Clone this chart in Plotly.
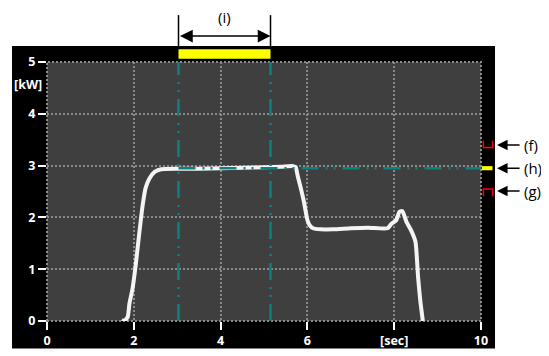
import plotly.graph_objects as go

# ---- data ----
time_s = [1.72, 1.78, 1.86, 1.90, 1.97, 2.04, 2.10, 2.20, 2.27, 2.36, 2.48, 2.63,
          3.0, 3.5, 4.0, 4.5, 5.0, 5.4, 5.67, 5.73, 5.78, 5.84, 5.92, 6.00,
          6.05, 6.13, 6.30, 6.6, 7.0, 7.4, 7.85, 7.93, 8.05, 8.12, 8.19, 8.28,
          8.39, 8.49, 8.55, 8.60, 8.66]
power_kw = [0.02, 0.0, 0.08, 0.34, 0.62, 1.05, 1.50, 2.21, 2.56, 2.75, 2.88, 2.93,
            2.94, 2.94, 2.95, 2.96, 2.97, 2.98, 2.99, 2.97, 2.79, 2.59, 2.30, 1.95,
            1.85, 1.79, 1.77, 1.77, 1.79, 1.80, 1.79, 1.87, 1.95, 2.11, 2.12, 1.92,
            1.75, 1.53, 0.85, 0.40, 0.0]

window_start = 3.03      # left edge of interval (i)
window_end = 5.15        # right edge of interval (i)
target_kw = 2.95         # level (h)
upper_band = [3.35, 3.48]  # (f)
lower_band = [2.41, 2.55]  # (g)
x_range = [0, 10]
y_range = [0, 5]

x_tickvals = [0, 2, 4, 6, 8, 10]
x_ticktext = ["0", "2", "4", "6", "[sec]", "10"]
y_tickvals = [0, 1, 2, 3, 4, 5]
y_ticktext = ["0", "1", "2", "3", "4", "5"]

# ---- styles ----
FONT = "Open Sans"
TEAL = "#0a8282"
GRID = "#8a8a8a"
BG = "#3f3f3f"
TEAL_DASH = "17px,7px,2px,6px,2px,7px"
GRID_DASH = "2px,2px"
TICK_SIZE = 12.5

fig = go.Figure()

fig.add_trace(go.Scatter(
    x=time_s, y=power_kw, mode="lines",
    line=dict(color="#f4f4f4", width=4, shape="spline", smoothing=0.5),
    hoverinfo="skip", showlegend=False))

# teal guide lines (drawn above the curve)
fig.add_trace(go.Scatter(
    x=[window_start, x_range[1]], y=[target_kw, target_kw], mode="lines",
    line=dict(color=TEAL, width=2.5, dash=TEAL_DASH),
    hoverinfo="skip", showlegend=False))
for xv in [window_start, window_end]:
    fig.add_trace(go.Scatter(
        x=[xv, xv], y=y_range, mode="lines",
        line=dict(color=TEAL, width=2.5, dash=TEAL_DASH),
        hoverinfo="skip", showlegend=False, cliponaxis=False))

shapes = [
    # black frame behind everything
    dict(type="rect", xref="paper", yref="paper", x0=-0.0806, x1=1.0323,
         y0=-0.106, y1=1.0618, fillcolor="black", line=dict(width=0), layer="below"),
    # gray plot area
    dict(type="rect", xref="paper", yref="paper", x0=0, x1=1, y0=0, y1=1,
         fillcolor=BG, line=dict(width=0), layer="below"),
    # dotted border (grid lines at the range ends)
    dict(type="rect", xref="paper", yref="paper", x0=0, x1=1, y0=0, y1=1,
         line=dict(color=GRID, width=2, dash=GRID_DASH), layer="below"),
    # yellow interval bar above the plot
    dict(type="rect", xref="x", yref="paper", x0=window_start, x1=window_end,
         y0=1.0127, y1=1.049, fillcolor="#ffff00", line=dict(width=0), layer="above"),
    # black dimension lines
    dict(type="line", xref="x", yref="paper", x0=window_start, x1=window_start,
         y0=1.054, y1=1.181, line=dict(color="black", width=1.5)),
    dict(type="line", xref="x", yref="paper", x0=window_end, x1=window_end,
         y0=1.054, y1=1.181, line=dict(color="black", width=1.5)),
    # (h) yellow marker on right side
    dict(type="rect", xref="paper", yref="y", x0=1.0016, x1=1.0265,
         y0=target_kw - 0.04, y1=target_kw + 0.04, fillcolor="#ffff00",
         line=dict(width=0), layer="above"),
    # (f) red bracket (open top)
    dict(type="path", xref="paper", yref="y",
         path=f"M 1.0055,{upper_band[1]} L 1.0055,{upper_band[0]} L 1.0265,{upper_band[0]} L 1.0265,{upper_band[1]}",
         line=dict(color="#ff0000", width=1.5)),
    # (g) red bracket (open bottom)
    dict(type="path", xref="paper", yref="y",
         path=f"M 1.0055,{lower_band[0]} L 1.0055,{lower_band[1]} L 1.0265,{lower_band[1]} L 1.0265,{lower_band[0]}",
         line=dict(color="#ff0000", width=1.5)),
]

annotations = [
    # double arrow for (i)
    dict(x=window_end, y=1.10, xref="x", yref="paper",
         ax=window_start, ay=0, axref="x", ayref="pixel",
         text="", showarrow=True, arrowhead=2, arrowside="end+start",
         arrowsize=1.7, arrowwidth=1.5, arrowcolor="black"),
    dict(x=(window_start + window_end) / 2, y=1.174, xref="x", yref="paper",
         text="(i)", showarrow=False, font=dict(family=FONT, size=15, color="black"),
         xanchor="center", yanchor="middle"),
    dict(x=-0.006, y=4.56, xref="paper", yref="y", text="[kW]", showarrow=False,
         font=dict(family=FONT, size=TICK_SIZE, color="white", weight="bold"),
         xanchor="right", yanchor="middle"),
]
for label, yv in [("(f)", 3.40), ("(h)", target_kw), ("(g)", 2.51)]:
    annotations.append(dict(x=1.037, y=yv, xref="paper", yref="y", ax=24, ay=0,
                            text="", showarrow=True, arrowhead=2, arrowsize=1.4,
                            arrowwidth=1.5, arrowcolor="black"))
    annotations.append(dict(x=1.0937, y=yv, xref="paper", yref="y", text=label,
                            showarrow=False, xanchor="left", yanchor="middle",
                            font=dict(family=FONT, size=15, color="black")))

axis_common = dict(
    showgrid=True, gridcolor=GRID, gridwidth=2, griddash=GRID_DASH,
    zeroline=False, showline=False, automargin=False,
    ticks="outside", ticklen=8, tickwidth=1.5, tickcolor="white",
    tickfont=dict(family=FONT, size=TICK_SIZE, color="white", weight="bold"),
    fixedrange=True,
)

# page body has an 8px margin, so the figure is offset by (8, 8)
fig.update_layout(
    width=541, height=348, autosize=False,
    margin=dict(l=39, r=68, t=54, b=35, pad=0, autoexpand=False),
    paper_bgcolor="white", plot_bgcolor=BG,
    showlegend=False,
    xaxis=dict(range=x_range, tickmode="array", tickvals=x_tickvals,
               ticktext=x_ticktext, **axis_common),
    yaxis=dict(range=y_range, tickmode="array", tickvals=y_tickvals,
               ticktext=y_ticktext, **axis_common),
    shapes=shapes,
    annotations=annotations,
)

fig.write_html("out.html")
